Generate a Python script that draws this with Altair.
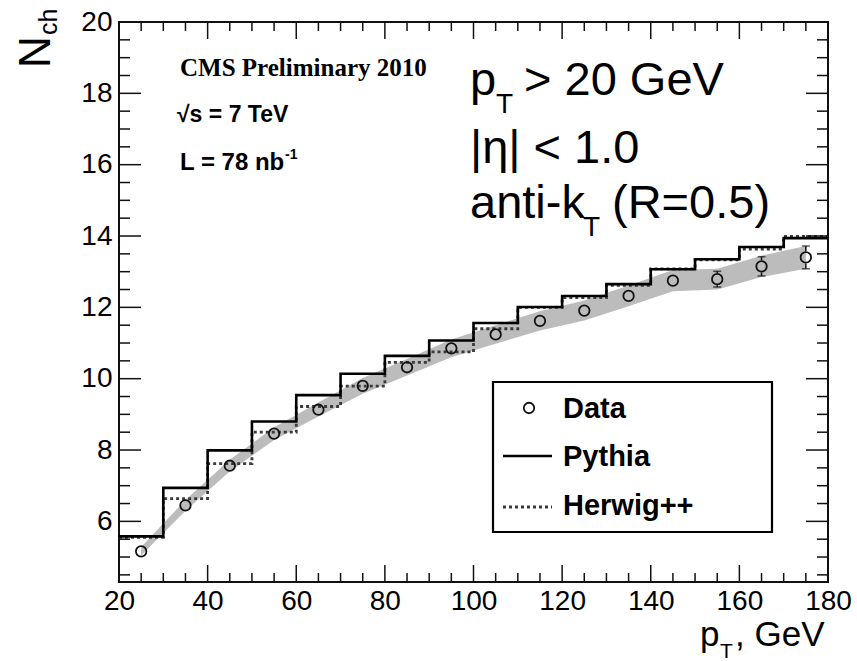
import altair as alt
import pandas as pd

# ---- data ----
bin_edges = [20, 30, 40, 50, 60, 70, 80, 90, 100, 110, 120, 130, 140, 150, 160, 170, 180]
bin_centers = [25, 35, 45, 55, 65, 75, 85, 95, 105, 115, 125, 135, 145, 155, 165, 175]
data_nch = [5.16, 6.45, 7.56, 8.46, 9.13, 9.80, 10.32, 10.85, 11.24, 11.62, 11.91, 12.32, 12.75, 12.79, 13.15, 13.40]
data_err = [0.05, 0.05, 0.05, 0.05, 0.05, 0.06, 0.06, 0.07, 0.08, 0.09, 0.10, 0.13, 0.17, 0.22, 0.27, 0.32]
band_lo = [5.04, 6.30, 7.40, 8.28, 8.94, 9.58, 10.09, 10.60, 10.98, 11.35, 11.63, 12.03, 12.45, 12.50, 12.85, 13.08]
band_hi = [5.28, 6.60, 7.73, 8.64, 9.33, 10.02, 10.55, 11.10, 11.50, 11.89, 12.19, 12.61, 13.05, 13.08, 13.45, 13.72]
pythia = [5.58, 6.94, 7.99, 8.80, 9.54, 10.14, 10.64, 11.07, 11.56, 12.01, 12.32, 12.65, 13.07, 13.35, 13.69, 13.94]
herwig = [5.55, 6.64, 7.62, 8.50, 9.22, 9.79, 10.46, 10.75, 11.40, 12.00, 12.27, 12.62, 13.08, 13.33, 13.63, 13.99]

x_major = [20, 40, 60, 80, 100, 120, 140, 160, 180]
x_minor = [v for v in range(20, 181, 5) if v % 20 != 0]
y_major = [6, 8, 10, 12, 14, 16, 18, 20]
y_minor = [v / 2 for v in range(9, 40) if v % 4 != 0]

W, H = 709, 560
FONT = "Liberation Sans"
SERIF = "Liberation Serif"
INK = "#111111"

xs = alt.Scale(domain=[20, 180], nice=False, zero=False)
ys = alt.Scale(domain=[4.3, 20], nice=False, zero=False)
xaxis = alt.Axis(values=x_major, ticks=False, domain=False, grid=False, title=None,
                 labelFontSize=28, labelFont=FONT, labelColor="#000", labelPadding=5,
                 labelFlush=False, labelOverlap=False)
yaxis = alt.Axis(values=y_major, ticks=False, domain=False, grid=False, title=None,
                 labelFontSize=28, labelFont=FONT, labelColor="#000", labelPadding=7,
                 labelFlush=False, labelOverlap=False)

pts = pd.DataFrame({"x": bin_centers, "y": data_nch, "err": data_err, "lo": band_lo, "hi": band_hi})
steps = pd.DataFrame({
    "x": bin_edges,
    "pythia": pythia + [pythia[-1]],
    "herwig": herwig + [herwig[-1]],
})
one = pd.DataFrame({"a": [0]})

band = alt.Chart(pts).mark_area(fill="#bcbcbc", opacity=1).encode(
    x=alt.X("x:Q", scale=xs, axis=xaxis),
    y=alt.Y("lo:Q", scale=ys, axis=yaxis),
    y2="hi:Q",
)

HW_COLOR = "#3a3a3a"
herwig_line = alt.Chart(steps).mark_line(interpolate="step-after", color=HW_COLOR,
                                         strokeWidth=2.8, strokeDash=[3, 3]).encode(
    x=alt.X("x:Q", scale=xs, axis=xaxis),
    y=alt.Y("herwig:Q", scale=ys, axis=yaxis),
)
pythia_line = alt.Chart(steps).mark_line(interpolate="step-after", color="#000",
                                         strokeWidth=2.6).encode(
    x=alt.X("x:Q", scale=xs, axis=xaxis),
    y=alt.Y("pythia:Q", scale=ys, axis=yaxis),
)

R = 0.17  # circle radius in data units, so error bars stop at the marker
err_base = alt.Chart(pts).transform_filter(f"datum.err > {R}").transform_calculate(
    top="datum.y + datum.err", top_in=f"datum.y + {R}",
    bot="datum.y - datum.err", bot_in=f"datum.y - {R}")
err_up = err_base.mark_rule(color=INK, strokeWidth=1.5).encode(
    x=alt.X("x:Q", scale=xs, axis=xaxis), y=alt.Y("top_in:Q", scale=ys, axis=yaxis), y2="top:Q")
err_dn = err_base.mark_rule(color=INK, strokeWidth=1.5).encode(
    x=alt.X("x:Q", scale=xs, axis=xaxis), y=alt.Y("bot:Q", scale=ys, axis=yaxis), y2="bot_in:Q")
cap_up = err_base.mark_tick(color=INK, orient="horizontal", size=8, thickness=1.5).encode(
    x=alt.X("x:Q", scale=xs, axis=xaxis), y=alt.Y("top:Q", scale=ys, axis=yaxis))
cap_dn = err_base.mark_tick(color=INK, orient="horizontal", size=8, thickness=1.5).encode(
    x=alt.X("x:Q", scale=xs, axis=xaxis), y=alt.Y("bot:Q", scale=ys, axis=yaxis))

points = alt.Chart(pts).mark_point(shape="circle", filled=False, stroke=INK, strokeWidth=1.8,
                                   size=110, opacity=1).encode(
    x=alt.X("x:Q", scale=xs, axis=xaxis),
    y=alt.Y("y:Q", scale=ys, axis=yaxis),
)


def xticks(vals, length, top):
    df = pd.DataFrame({"v": vals})
    y0, y1 = (0, length) if top else (H, H - length)
    return alt.Chart(df).mark_rule(color=INK, strokeWidth=1.5).encode(
        x=alt.X("v:Q", scale=xs, axis=xaxis), y=alt.value(y0), y2=alt.value(y1))


def yticks(vals, length, right):
    df = pd.DataFrame({"v": vals})
    x0, x1 = (W, W - length) if right else (0, length)
    return alt.Chart(df).mark_rule(color=INK, strokeWidth=1.5).encode(
        y=alt.Y("v:Q", scale=ys, axis=yaxis), x=alt.value(x0), x2=alt.value(x1))


ticks = [
    xticks(x_major, 17, False), xticks(x_minor, 9, False),
    xticks(x_major, 17, True), xticks(x_minor, 9, True),
    yticks(y_major, 22, False), yticks(y_minor, 11, False),
    yticks(y_major, 22, True), yticks(y_minor, 11, True),
]


def txt(s, x, y, size, font=FONT, weight="normal", angle=0, align="left", baseline="alphabetic"):
    return alt.Chart(one).mark_text(text=s, fontSize=size, font=font, fontWeight=weight,
                                    angle=angle, align=align, baseline=baseline,
                                    color="#000").encode(x=alt.value(x), y=alt.value(y))


texts = [
    # CMS block
    txt("CMS Preliminary 2010", 61, 54, 25, font=SERIF, weight="bold"),
    txt("\u221as = 7 TeV", 58, 100, 23, weight="bold"),
    txt("L = 78 nb", 61, 148, 24, weight="bold"),
    txt("-1", 166, 137, 14, weight="bold"),
    # selection text
    txt("p", 351, 73, 47),
    txt("T", 377, 91, 28),
    txt("> 20 GeV", 405, 73, 47),
    txt("|\u03b7| < 1.0", 351, 141, 47),
    txt("anti-k", 351, 196, 47),
    txt("T", 464, 214, 28),
    txt("(R=0.5)", 493, 196, 47),
    # axis titles
    txt("p", 581, 624, 35),
    txt("T", 601, 636, 21),
    txt(", GeV", 616, 624, 35),
    txt("N", -69, 46, 44, angle=270),
    txt("ch", -62, 13, 25, angle=270),
]

# legend
legend_box = alt.Chart(one).mark_rect(fill="white", stroke="#000", strokeWidth=2.2).encode(
    x=alt.value(374), x2=alt.value(653), y=alt.value(360), y2=alt.value(510))
legend_circle = alt.Chart(one).mark_point(shape="circle", filled=True, fill="white", stroke=INK,
                                          strokeWidth=1.8, size=110, opacity=1).encode(
    x=alt.value(410), y=alt.value(386))
legend_py = alt.Chart(one).mark_rule(color="#000", strokeWidth=2.6).encode(
    x=alt.value(384), x2=alt.value(433), y=alt.value(434))
legend_hw = alt.Chart(one).mark_rule(color=HW_COLOR, strokeWidth=2.8, strokeDash=[3, 3]).encode(
    x=alt.value(384), x2=alt.value(433), y=alt.value(485))
legend_txt = [
    txt("Data", 444, 396, 29, weight="bold"),
    txt("Pythia", 444, 444, 29, weight="bold"),
    txt("Herwig++", 444, 493, 29, weight="bold"),
]

chart = alt.layer(
    band, herwig_line, pythia_line, err_up, err_dn, cap_up, cap_dn, points,
    *ticks, *texts, legend_box, legend_circle, legend_py, legend_hw, *legend_txt,
).properties(
    width=W, height=H,
    autosize=alt.AutoSizeParams(type="none"),
    padding={"left": 119, "top": 22, "right": 29, "bottom": 79},
    background="white",
).configure_view(stroke="#111111", strokeWidth=2)

chart.save("out.html", embed_options={"renderer": "svg", "actions": False})
